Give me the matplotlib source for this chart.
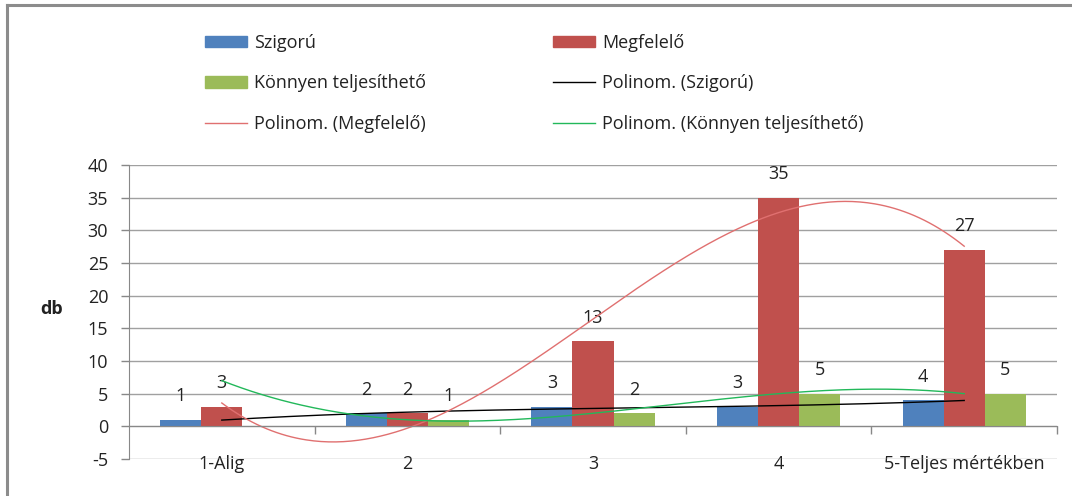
import numpy as np
import matplotlib
matplotlib.use("Agg")
import matplotlib.pyplot as plt
from matplotlib.lines import Line2D
from matplotlib.patches import Patch

plt.rcParams['font.family'] = ['Open Sans', 'DejaVu Sans']
plt.rcParams['axes.unicode_minus'] = False

categories = ["1-Alig", "2", "3", "4", "5-Teljes mértékben"]
szigoru = [1, 2, 3, 3, 4]
megfelelo = [3, 2, 13, 35, 27]
konnyen = [np.nan, 1, 2, 5, 5]
series_names = ["Szigorú", "Megfelelő", "Könnyen teljesíthető"]
trend_names = ["Polinom. (Szigorú)", "Polinom. (Megfelelő)", "Polinom. (Könnyen teljesíthető)"]
y_ticks = [-5, 0, 5, 10, 15, 20, 25, 30, 35, 40]

bar_colors = ["#4F81BD", "#C0504D", "#9BBB59"]
trend_colors = ["#000000", "#E07070", "#22B85A"]

W, H = 1072, 496
fig = plt.figure(figsize=(W / 100, H / 100), dpi=100)
ax = fig.add_axes([129 / W, 1 - 459 / H, (1057 - 129) / W, (459 - 165) / H])

x = np.arange(len(categories))
bw = 0.221
data = [szigoru, megfelelo, konnyen]
offsets = [-bw, 0, bw]
fs = 13

for vals, off, col in zip(data, offsets, bar_colors):
    v = np.array(vals, dtype=float)
    ax.bar(x + off, v, width=bw, color=col, zorder=2)
    for xi, yi in zip(x + off, v):
        if not np.isnan(yi):
            ax.annotate(f"{int(yi)}", (xi, yi), xytext=(0, 17), textcoords="offset points",
                        ha="center", va="center", fontsize=fs, color="#222222")

# polynomial (order 3) trendlines
xs = np.linspace(0, 4, 300)
for vals, col in zip(data, trend_colors):
    v = np.array(vals, dtype=float)
    m = ~np.isnan(v)
    coef = np.polyfit(x[m], v[m], 3)
    ax.plot(xs, np.polyval(coef, xs), color=col, lw=1.0, zorder=3)

ax.set_xlim(-0.5, 4.5)
ax.set_ylim(-5, 40)
ax.set_yticks(y_ticks)
ax.tick_params(axis='y', labelsize=fs, length=6, color="#888888", width=1, pad=9, labelcolor="#222222")
ax.yaxis.grid(True, color="#A0A0A0", lw=1)
ax.set_axisbelow(True)

for s in ["top", "right"]:
    ax.spines[s].set_visible(False)
ax.spines["left"].set_color("#888888")
ax.spines["bottom"].set_position(("data", 0))
ax.spines["bottom"].set_color("#888888")
ax.spines["bottom"].set_zorder(4)

ax.set_xticks(x)
ax.set_xticklabels(categories)
ax.set_xticks(np.arange(0.5, 5, 1), minor=True)
ax.tick_params(axis='x', which='major', length=0, pad=20.5, labelsize=fs, labelcolor="#222222")
ax.tick_params(axis='x', which='minor', length=6, color="#888888", width=1)

ax.text(-0.083, 0.51, "db", transform=ax.transAxes, fontsize=fs, fontweight="bold",
        ha="center", va="center", color="#222222")

# legends
h1 = [Patch(color=bar_colors[0]), Patch(color=bar_colors[2]), Line2D([], [], color=trend_colors[1], lw=1)]
l1 = [series_names[0], series_names[2], trend_names[1]]
h2 = [Patch(color=bar_colors[1]), Line2D([], [], color=trend_colors[0], lw=1), Line2D([], [], color=trend_colors[2], lw=1)]
l2 = [series_names[1], trend_names[0], trend_names[2]]
common = dict(loc="upper left", frameon=False, borderpad=0, borderaxespad=0, fontsize=fs,
              handlelength=2.3, handleheight=0.6, handletextpad=0.4, labelspacing=1.24,
              labelcolor="#222222")
lg1 = fig.legend(h1, l1, bbox_to_anchor=(205 / W, 1 - 34 / H), **common)
lg2 = fig.legend(h2, l2, bbox_to_anchor=(553 / W, 1 - 34 / H), **common)

# outer border (top and left)
fig.add_artist(Line2D([7 / W, 7 / W], [0, 1 - 5 / H], color="#8C8C8C", lw=2.2, transform=fig.transFigure))
fig.add_artist(Line2D([7 / W, 1], [1 - 5 / H, 1 - 5 / H], color="#8C8C8C", lw=2.2, transform=fig.transFigure))

fig.savefig("out.png", dpi=100)
